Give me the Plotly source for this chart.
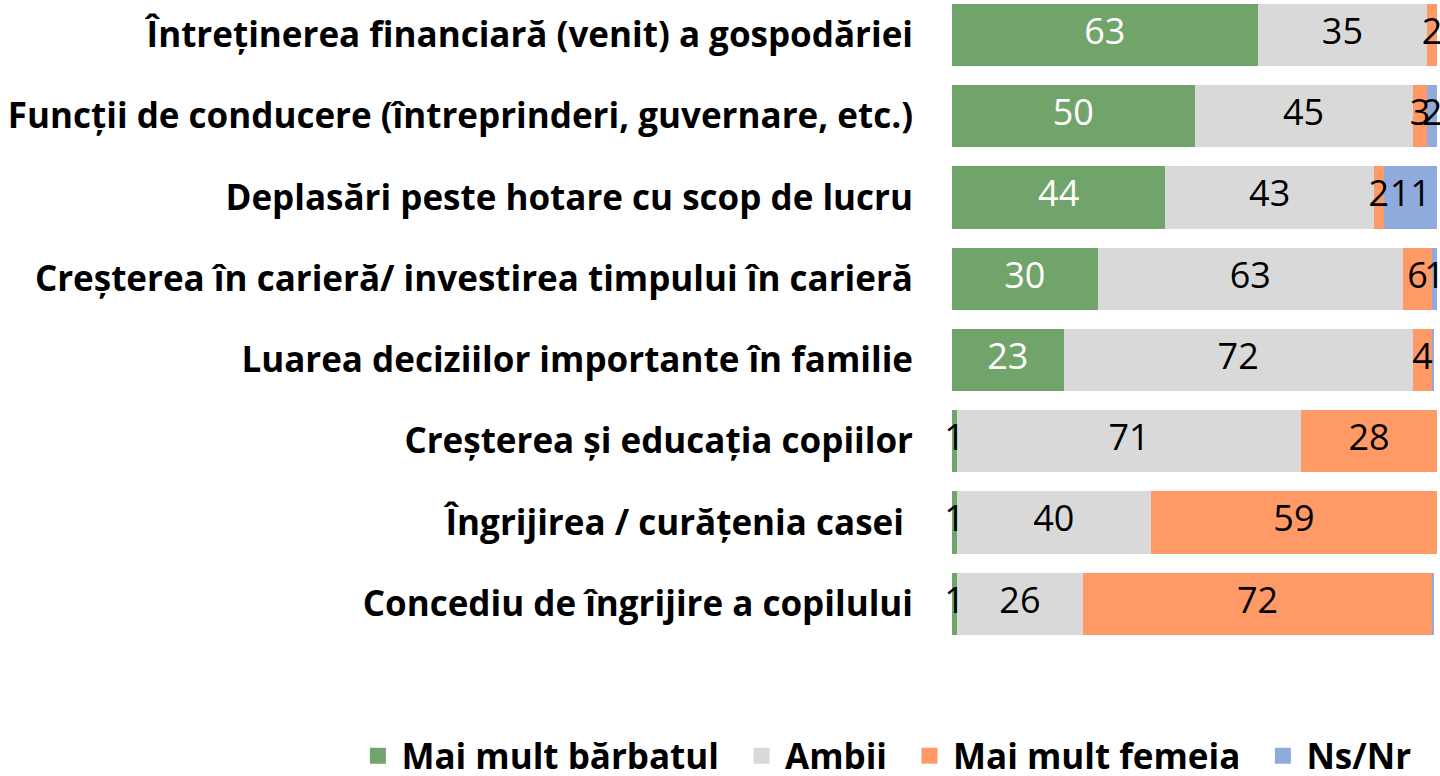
import plotly.graph_objects as go

categories = [
    "Întreținerea financiară (venit) a gospodăriei",
    "Funcții de conducere (întreprinderi, guvernare, etc.)",
    "Deplasări peste hotare cu scop de lucru",
    "Creșterea în carieră/ investirea timpului în carieră",
    "Luarea deciziilor importante în familie",
    "Creșterea și educația copiilor",
    "Îngrijirea / curățenia casei\u00a0",
    "Concediu de îngrijire a copilului",
]
mai_mult_barbatul = [63, 50, 44, 30, 23, 1, 1, 1]
ambii = [35, 45, 43, 63, 72, 71, 40, 26]
mai_mult_femeia = [2, 3, 2, 6, 4, 28, 59, 72]
ns_nr = [0.3, 2, 11, 1, 0.4, 0.3, 0, 0.4]

series = [
    ("Mai mult bărbatul", mai_mult_barbatul, "#70A46B", "white"),
    ("Ambii", ambii, "#D9D9D9", "black"),
    ("Mai mult femeia", mai_mult_femeia, "#FF9966", "black"),
    ("Ns/Nr", ns_nr, "#8FAADC", "black"),
]

NUM_FONT = "Open Sans"
LBL_FONT = "Open Sans"

fig = go.Figure()
base = [0.0] * len(categories)
for name, vals, color, tcolor in series:
    fig.add_trace(go.Bar(
        y=categories, x=vals, name=name, orientation="h",
        marker=dict(color=color, line=dict(width=0)),
        showlegend=False, hoverinfo="skip",
    ))
    mids = [b + v / 2 for b, v in zip(base, vals)]
    fig.add_trace(go.Scatter(
        y=categories, x=mids, mode="text",
        text=[f"{v:.0f}" if v >= 1 else "" for v in vals],
        textposition="middle center",
        textfont=dict(family=NUM_FONT, size=36,
                      color=[tcolor if v >= 5 else "black" for v in vals]),
        cliponaxis=False, showlegend=False, hoverinfo="skip",
    ))
    base = [b + v for b, v in zip(base, vals)]

# legend entries
n_series = len(series)
for i, (name, vals, color, tcolor) in enumerate(series):
    label = "\u200a" + name + ("\u2002" if i < n_series - 1 else "")
    fig.add_trace(go.Scatter(
        x=[None], y=[None], mode="markers", name=label,
        marker=dict(symbol="square", size=16, color=color),
        showlegend=True, hoverinfo="skip",
    ))

fig.update_layout(
    barmode="stack",
    bargap=0.235,
    width=1440, height=776,
    margin=dict(l=952, r=3, t=0, b=126, autoexpand=False),
    plot_bgcolor="white", paper_bgcolor="white",
    showlegend=True,
    legend=dict(
        orientation="h", xref="paper", x=-1.225, xanchor="left",
        yref="paper", y=-0.163, yanchor="middle",
        font=dict(family=LBL_FONT, size=35, color="black", weight="bold"),
        traceorder="normal", itemsizing="trace",
        bgcolor="rgba(0,0,0,0)",
    ),
    xaxis=dict(range=[0, 100], visible=False, fixedrange=True),
    yaxis=dict(
        categoryorder="array", categoryarray=categories,
        range=[7.57, -0.43],
        ticks="outside", ticklen=31, tickcolor="rgba(0,0,0,0)",
        tickfont=dict(family=LBL_FONT, size=35, color="black", weight="bold"),
        showline=False, showgrid=False, zeroline=False,
    ),
)

fig.write_html("out.html", config={"displayModeBar": False},
               post_script="document.body.style.margin='0';")
